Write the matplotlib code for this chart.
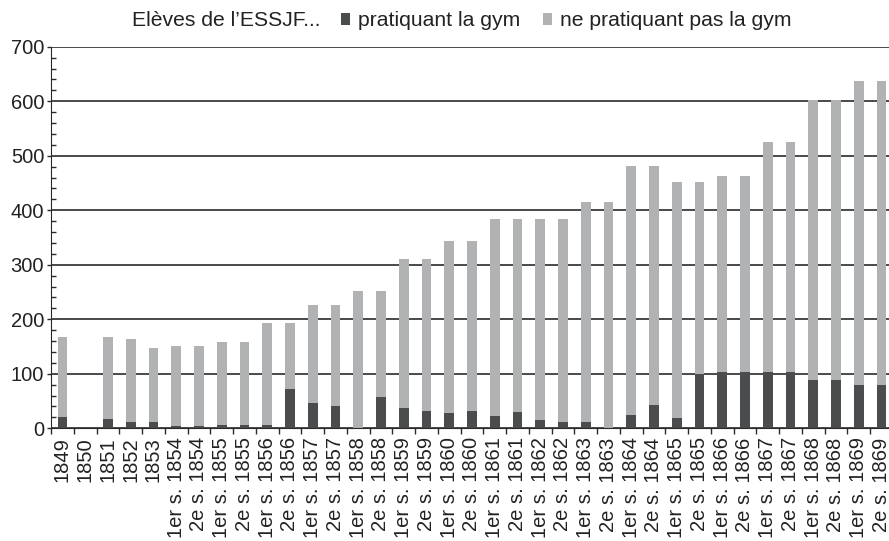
import matplotlib
matplotlib.use('Agg')
from matplotlib import pyplot as plt
from matplotlib.ticker import MultipleLocator
import numpy as np

plt.rcParams['font.family'] = ['Liberation Sans', 'DejaVu Sans']

annees = ['1849', '1850', '1851', '1852', '1853']
for a in range(1854, 1870):
    annees.append('1er s. %d' % a)
    annees.append('2e s. %d' % a)

pratiquant = [21, 0, 17, 12, 12, 4, 4, 6, 6, 6, 73, 47, 40, 0, 57, 38, 32, 28, 32,
              23, 30, 15, 12, 12, 0, 24, 43, 18, 99, 104, 104, 104, 104, 89, 89, 79, 79]
non_pratiquant = [147, 0, 151, 151, 135, 147, 147, 152, 152, 188, 121, 180, 187, 252,
                  195, 273, 279, 315, 311, 361, 354, 369, 372, 403, 415, 458, 439, 434,
                  353, 359, 359, 421, 421, 514, 514, 558, 558]

FONCE = '#4b4c4e'
CLAIR = '#b1b2b4'

fig = plt.figure(figsize=(8.89, 5.41), dpi=100)
ax = fig.add_axes([51.1 / 889, 1 - 428.3 / 541, 841.75 / 889, (428.3 - 46.7) / 541])

x = np.arange(len(annees))
ax.bar(x, pratiquant, width=0.42, color=FONCE, label='pratiquant la gym')
ax.bar(x, non_pratiquant, width=0.42, bottom=pratiquant, color=CLAIR,
       label='ne pratiquant pas la gym')

ax.set_xlim(-0.5, len(annees) - 0.5)
ax.set_ylim(0, 700)
ax.set_axisbelow(True)
ax.yaxis.grid(True, color='#2a2a2a', linewidth=1.2)

ax.spines['top'].set_visible(False)
ax.spines['right'].set_visible(False)
ax.spines['left'].set_color('#2a2a2a')
ax.spines['bottom'].set_color('#2a2a2a')

ax.yaxis.set_major_locator(MultipleLocator(100))
ax.yaxis.set_minor_locator(MultipleLocator(20))
ax.tick_params(axis='y', which='major', direction='out', length=3, width=1,
               labelsize=14.5, pad=2, colors='#2a2a2a', labelcolor='#222222')
ax.tick_params(axis='y', which='minor', direction='in', length=3.5, width=1, colors='#2a2a2a')

ax.set_xticks(x)
ax.set_xticklabels(annees, rotation=90, va='top', ha='center')
ax.set_xticks(np.arange(len(annees) + 1) - 0.5, minor=True)
ax.tick_params(axis='x', which='major', length=0, labelsize=14.5, pad=6.5, labelcolor='#222222')
ax.tick_params(axis='x', which='minor', direction='out', length=4, width=1, colors='#2a2a2a')

fig.text(132 / 889, 1 - 21 / 541, 'Elèves de l\u2019ESSJF...', fontsize=15.2,
         color='#222222', va='center', ha='left')
fig.legend(loc='center left', bbox_to_anchor=(341 / 889, 1 - 21 / 541), ncol=2,
           frameon=False, fontsize=15.2, handlelength=0.43, handleheight=0.43,
           handletextpad=0.38, columnspacing=1.05, borderpad=0, borderaxespad=0,
           labelcolor='#222222')

plt.savefig('out.png', dpi=100)
